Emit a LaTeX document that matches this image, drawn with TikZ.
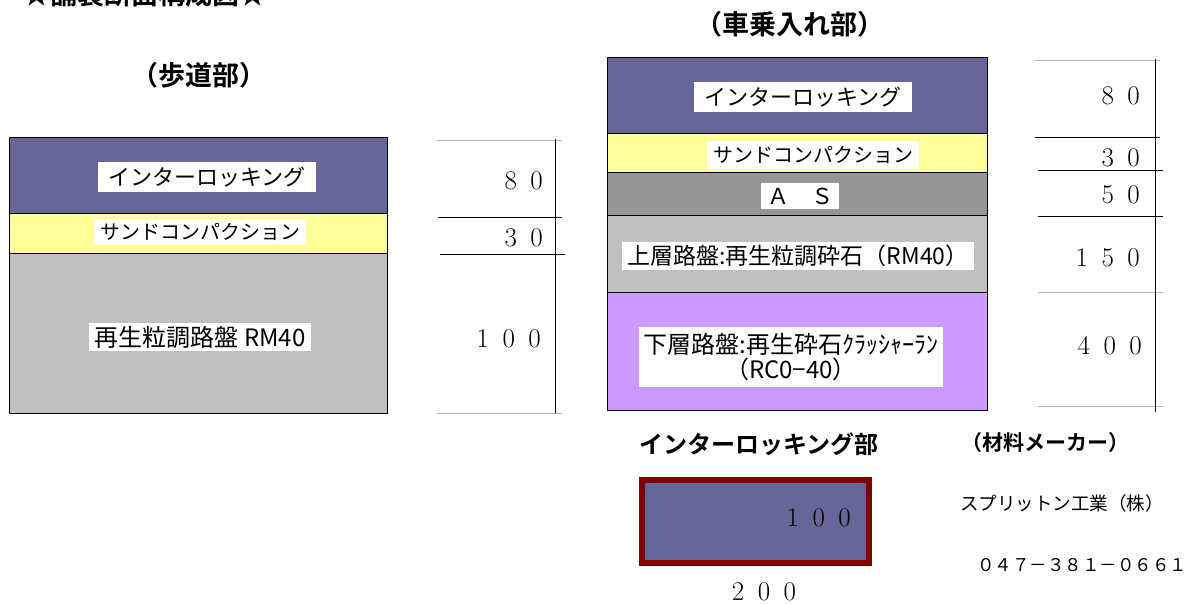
\documentclass[tikz,border=0pt]{standalone}
\usepackage{fontspec}
\newfontfamily\jp[BoldFont={Noto Sans CJK JP Bold}]{Noto Sans CJK JP}
\usepackage{tikz}
\usetikzlibrary{positioning}
\definecolor{ilblue}{HTML}{666699}
\definecolor{sandyellow}{HTML}{FFFF99}
\definecolor{asgray}{HTML}{969696}
\definecolor{basegray}{HTML}{C0C0C0}
\definecolor{subpurple}{HTML}{CC99FF}
\definecolor{brickred}{HTML}{800000}
\tikzset{dim/.style={draw, line width=0.8pt}}
\tikzset{dimfaint/.style={draw, line width=0.8pt, gray!60}}
\newcommand{\jpsize}[1]{\jp\fontsize{#1}{#1}\selectfont}

\begin{document}
\begin{tikzpicture}[x=1pt,y=-1pt]
\tikzstyle{layer} = [rectangle, draw, line width=0.8pt, inner sep=0pt, outer sep=0pt, anchor=north west]
\tikzstyle{tag} = [fill=white, inner xsep=6pt, inner ysep=4pt]
\tikzstyle{heading} = [font=\jp\bfseries\fontsize{27}{30}\selectfont]
\tikzstyle{dimnum} = [font=\fontsize{27}{30}\selectfont, anchor=east, inner sep=0pt]

\useasboundingbox (0,0) rectangle (1189,604);

% titles
    \node [heading, anchor=base] (title) at (145,5) {★舗装断面構成図★};
    \node [heading] (walk title) at (199,75) {（歩道部）};
    \node [heading] (drive title) at (790,24) {（車乗入れ部）};

% walkway
    % layers
    \node [layer, fill=ilblue, minimum width=378pt, minimum height=76pt] (walk il) at (9,137) {};
    \node [layer, fill=sandyellow, minimum width=378pt, minimum height=40pt, below=0pt of walk il] (walk sand) {};
    \node [layer, fill=basegray, minimum width=378pt, minimum height=160pt, below=0pt of walk sand] (walk base) {};
    % tags
    \node [tag, font=\jpsize{22}, inner xsep=10pt, inner ysep=5pt] (walk il tag) at (207,177) {インターロッキング};
    \node [tag, font=\jpsize{20}, inner ysep=4.5pt] (walk sand tag) at (200,232) {サンドコンパクション};
    \node [tag, font=\jpsize{24}, inner ysep=2.5pt] (walk base tag) at (200,337) {再生粒調路盤 RM40};
    % dims
    \draw [dimfaint] (437,140) -- (562,140);
    \draw [dim] (438,217) -- (562,217);
    \draw [dim] (440,254) -- (565,254);
    \draw [dimfaint] (437,413) -- (562,413);
    \draw [dim] (555,139) -- (555,413);
    \node [dimnum] (walk d1) at (543,181) {8\enspace0};
    \node [dimnum] (walk d2) at (543,238) {3\enspace0};
    \node [dimnum] (walk d3) at (541,339) {1\enspace0\enspace0};

% driveway
    % layers
    \node [layer, fill=ilblue, minimum width=380pt, minimum height=76pt] (drive il) at (607,57) {};
    \node [layer, fill=sandyellow, minimum width=380pt, minimum height=39pt, below=0pt of drive il] (drive sand) {};
    \node [layer, fill=asgray, minimum width=380pt, minimum height=43pt, below=0pt of drive sand] (drive as) {};
    \node [layer, fill=basegray, minimum width=380pt, minimum height=77pt, below=0pt of drive as] (drive upper) {};
    \node [layer, fill=subpurple, minimum width=380pt, minimum height=118pt, below=0pt of drive upper] (drive lower) {};
    % tags
    \node [tag, font=\jpsize{22}, inner xsep=10pt, inner ysep=5pt] (drive il tag) at (803,97) {インターロッキング};
    \node [tag, font=\jpsize{20}, inner ysep=5.5pt] (drive sand tag) at (813,155) {サンドコンパクション};
    \node [tag, font=\jpsize{22}, inner ysep=4.5pt] (drive as tag) at (800,196) {Ａ　Ｓ};
    \node [tag, font=\jpsize{23}, inner xsep=5pt, inner ysep=3.5pt] (drive upper tag) at (798,256) {上層路盤:再生粒調砕石（RM40）};
    \node [tag, font=\jp\fontsize{24}{25}\selectfont, align=center, inner xsep=5pt, inner ysep=6pt] (drive lower tag) at (791,357) {下層路盤:再生砕石ｸﾗｯｼｬｰﾗﾝ\\（RC0−40）};
    % dims
    \draw [dimfaint] (1035,60) -- (1160,60);
    \draw [dim] (1035,137) -- (1160,137);
    \draw [dim] (1038,170) -- (1163,170);
    \draw [dim] (1038,216) -- (1163,216);
    \draw [dimfaint] (1038,292) -- (1163,292);
    \draw [dimfaint] (1038,406) -- (1163,406);
    \draw [dim] (1155,59) -- (1155,412);
    \node [dimnum] (drive d1) at (1140,96) {8\enspace0};
    \node [dimnum] (drive d2) at (1140,158) {3\enspace0};
    \node [dimnum] (drive d3) at (1140,195) {5\enspace0};
    \node [dimnum] (drive d4) at (1140,258) {1\enspace5\enspace0};
    \node [dimnum] (drive d5) at (1142,346) {4\enspace0\enspace0};

% block
    \node [heading, font=\jp\bfseries\fontsize{24}{28}\selectfont] (block title) at (759,444) {インターロッキング部};
    \node [draw=brickred, line width=6pt, fill=ilblue, minimum width=227pt, minimum height=83pt, inner sep=0pt] (block) at (755.5,521.5) {};
    \node [dimnum] (block d1) at (851,518) {1\enspace0\enspace0};
    \node [dimnum, anchor=center] (block d2) at (764,592) {2\enspace0\enspace0};

% maker
    \node [heading, font=\jp\bfseries\fontsize{21}{24}\selectfont] (maker title) at (1045,443) {（材料メーカー）};
    \node [font=\jpsize{18.5}] (maker name) at (1062,503) {スプリットン工業（株）};
    \node [font=\jpsize{17.5}] (maker tel) at (1082,565) {０４７－３８１－０６６１};
\end{tikzpicture}
\end{document}
